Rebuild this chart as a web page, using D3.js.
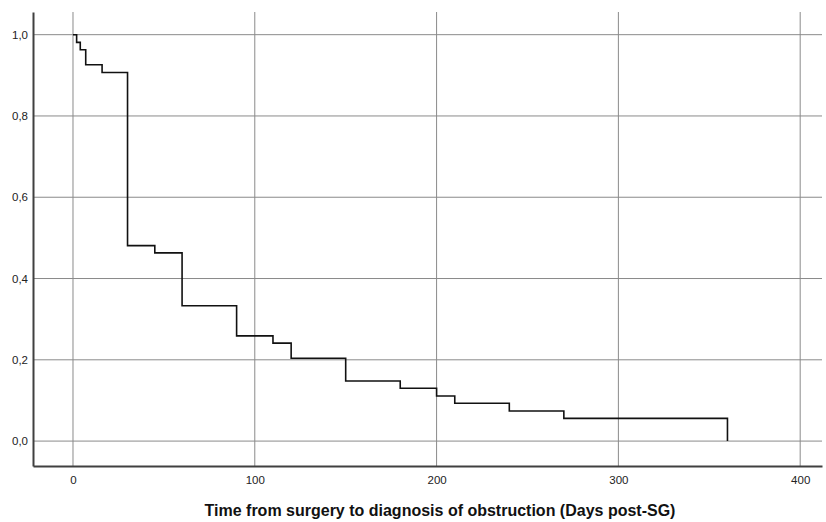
<html>
<script src='https://cdnjs.cloudflare.com/ajax/libs/d3/7.8.5/d3.min.js'></script>
<style>
body {margin:0; background:#fff;}
text {font-family: Arial, 'Liberation Sans', sans-serif;}
</style>
<body onload='init()'>
<svg width=826 height=522></svg>
<script>
// Kaplan-Meier steps
var days     = [0, 2, 4, 7, 16, 30, 45, 60, 90, 110, 120, 150, 180, 200, 210, 240, 270, 360];
var survival = [1.0, 0.981, 0.963, 0.926, 0.907, 0.481, 0.463, 0.333, 0.259, 0.241, 0.204, 0.148, 0.130, 0.111, 0.093, 0.074, 0.056, 0.0];
var xTicks = [0, 100, 200, 300, 400];
var yTicks = [0, 0.2, 0.4, 0.6, 0.8, 1.0];
var xTitle = "Time from surgery to diagnosis of obstruction (Days post-SG)";

function init() {
var left = 33, right = 822, top = 12, bottom = 466;
var xScale = d3.scaleLinear().domain([-22, 412]).range([left, right]);
var yScale = d3.scaleLinear().domain([-0.0613, 1.0558]).range([bottom, top]);
var svg = d3.select('svg');

// grid
svg.append('g').selectAll('line').data(yTicks).enter().append('line')
  .attr('x1', left).attr('x2', right)
  .attr('y1', function(d) {return yScale(d);}).attr('y2', function(d) {return yScale(d);})
  .attr('stroke', '#8a8a8a').attr('stroke-width', 1);
svg.append('g').selectAll('line').data(xTicks).enter().append('line')
  .attr('y1', top).attr('y2', bottom)
  .attr('x1', function(d) {return xScale(d);}).attr('x2', function(d) {return xScale(d);})
  .attr('stroke', '#8a8a8a').attr('stroke-width', 1);

// axes
var yAxis = svg.append('g').attr('transform', 'translate(' + left + ',0)')
  .call(d3.axisLeft(yScale).tickValues(yTicks).tickSize(0).tickPadding(5)
    .tickFormat(function(d) {return d3.format('.1f')(d).replace('.', ',');}));
var xAxis = svg.append('g').attr('transform', 'translate(0,' + bottom + ')')
  .call(d3.axisBottom(xScale).tickValues(xTicks).tickSize(0).tickPadding(10));
[xAxis, yAxis].forEach(function(a) {
  a.select('.domain').attr('stroke', '#404040').attr('stroke-width', 2);
  a.selectAll('text').attr('font-size', 11.5).attr('fill', '#222')
    .style('font-family', "Arial, 'Liberation Sans', sans-serif");
});

// step curve
var pts = days.map(function(d, i) {return [d, survival[i]];});
pts.splice(pts.length - 1, 0, [days[days.length - 1], survival[survival.length - 2]]);
svg.append('path').datum(pts)
  .attr('d', d3.line().x(function(d) {return xScale(d[0]);}).y(function(d) {return yScale(d[1]);}).curve(d3.curveStepAfter))
  .attr('fill', 'none').attr('stroke', '#111').attr('stroke-width', 1.6);

svg.append('text').attr('x', 440).attr('y', 516).attr('text-anchor', 'middle')
  .attr('font-size', 16).attr('font-weight', 'bold').attr('fill', '#111').text(xTitle);
}
</script>
</body>
</html>
